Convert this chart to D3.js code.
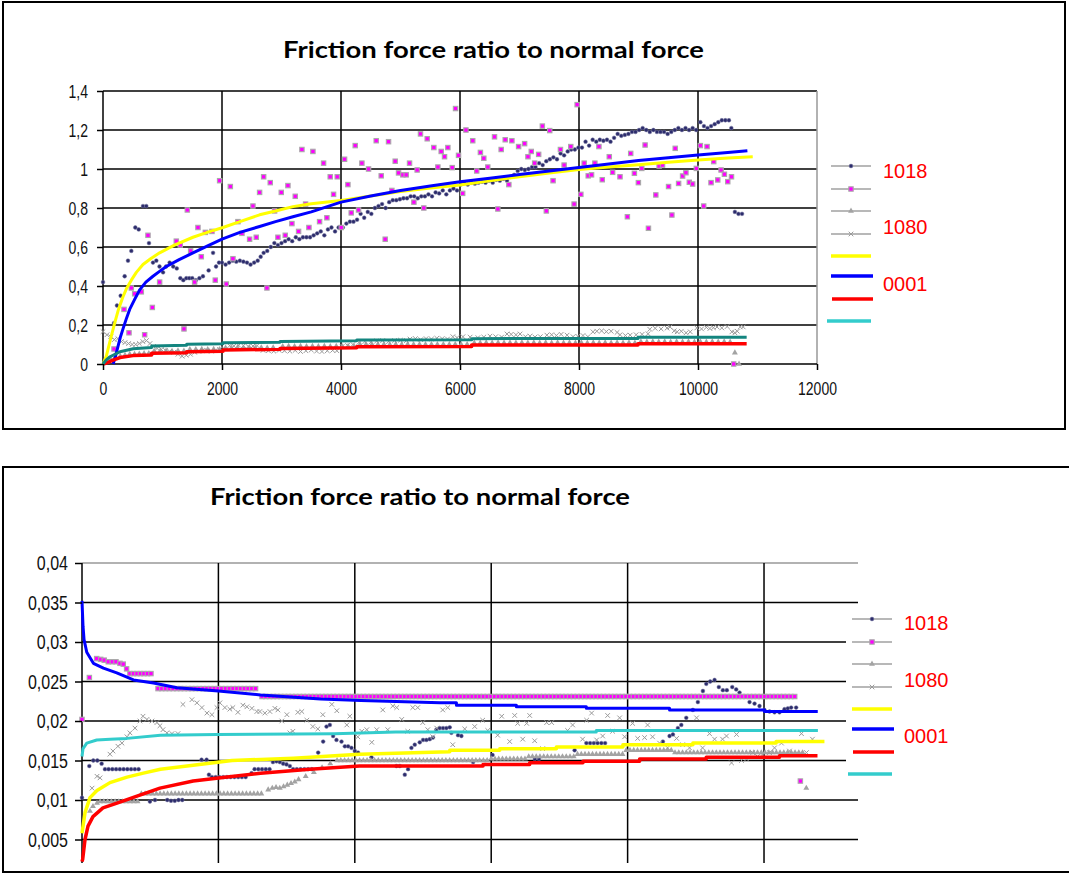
<!DOCTYPE html>
<html>
<head>
<meta charset="utf-8">
<script src="https://cdn.jsdelivr.net/npm/d3@7"></script>
<style>
  body { margin: 0; background: #fff; }
  svg { display: block; }
</style>
</head>
<body>
<div id="chart"></div>
<script>
// ---------- shared tick values / labels ----------
const seriesNames = ["1018", "1080", "0001"];
const topXTicks = [0, 2000, 4000, 6000, 8000, 10000, 12000];
const topYTicks = [0, 0.2, 0.4, 0.6, 0.8, 1, 1.2, 1.4];
const botXTicks = [0, 2000, 4000, 6000, 8000, 10000];
const botYTicks = [0.005, 0.01, 0.015, 0.02, 0.025, 0.03, 0.035, 0.04];

// ---------- top chart data ----------
const topDots = [[0,0.42],[185,0.21],[235,0.30],[297,0.35],[364,0.45],[420,0.53],[476,0.58],[543,0.70],[600,0.69],[672,0.81],[728,0.81],[773,0.62],[840,0.52],[896,0.53],[950,0.50],[1010,0.47],[1060,0.50],[1120,0.52],[1180,0.50],[1240,0.49],[1300,0.44],[1350,0.43],[1400,0.44],[1450,0.44],[1500,0.44],[1560,0.43],[1620,0.44],[1680,0.45],[1775,0.48],[1850,0.57],[1900,0.50],[1950,0.52],[2000,0.52],[2060,0.51],[2120,0.52],[2180,0.53],[2240,0.525],[2300,0.53],[2360,0.525],[2420,0.52],[2480,0.51],[2540,0.52],[2600,0.53],[2650,0.55],[2700,0.57],[2760,0.58],[2820,0.60],[2880,0.62],[2940,0.61],[3000,0.62],[3060,0.63],[3120,0.64],[3180,0.63],[3240,0.65],[3300,0.64],[3360,0.65],[3420,0.65],[3480,0.65],[3540,0.66],[3600,0.67],[3660,0.68],[3720,0.66],[3780,0.69],[3840,0.70],[3900,0.68],[3960,0.70],[4030,0.70],[4090,0.72],[4150,0.73],[4210,0.73],[4270,0.74],[4330,0.77],[4390,0.75],[4450,0.78],[4510,0.77],[4570,0.80],[4630,0.81],[4690,0.82],[4750,0.80],[4810,0.83],[4870,0.84],[4930,0.84],[4990,0.845],[5050,0.85],[5110,0.85],[5170,0.86],[5230,0.86],[5290,0.85],[5350,0.86],[5410,0.86],[5470,0.87],[5530,0.86],[5590,0.88],[5650,0.875],[5710,0.89],[5770,0.87],[5830,0.89],[5890,0.90],[5950,0.89],[6010,0.92],[6070,0.93],[6130,0.92],[6190,0.93],[6250,0.925],[6310,0.93],[6370,0.935],[6430,0.93],[6490,0.94],[6550,0.93],[6610,0.945],[6670,0.94],[6730,0.95],[6790,0.94],[6850,0.96],[6910,0.97],[6970,0.99],[7030,1.0],[7090,0.995],[7150,1.0],[7210,1.01],[7270,1.01],[7330,1.03],[7390,1.02],[7450,1.04],[7510,1.05],[7570,1.06],[7630,1.05],[7690,1.08],[7750,1.07],[7810,1.09],[7870,1.10],[7930,1.10],[7990,1.11],[8050,1.11],[8110,1.14],[8170,1.12],[8230,1.15],[8290,1.14],[8350,1.15],[8410,1.145],[8470,1.15],[8530,1.14],[8590,1.16],[8650,1.18],[8710,1.17],[8770,1.175],[8830,1.18],[8890,1.19],[8950,1.19],[9010,1.20],[9070,1.21],[9130,1.20],[9190,1.19],[9250,1.20],[9310,1.19],[9370,1.19],[9430,1.19],[9490,1.18],[9550,1.19],[9610,1.20],[9670,1.21],[9730,1.20],[9790,1.21],[9850,1.20],[9910,1.21],[9970,1.20],[10040,1.24],[10100,1.22],[10160,1.21],[10220,1.22],[10280,1.23],[10340,1.24],[10400,1.25],[10460,1.25],[10520,1.25],[10560,1.21],[10620,0.78],[10680,0.77],[10740,0.77]];

const topSquares = [[185,0.077],[353,0.28],[437,0.16],[476,0.39],[532,0.36],[644,0.37],[700,0.15],[756,0.66],[829,0.29],[952,0.42],[1232,0.63],[1299,0.61],[1361,0.18],[1417,0.79],[1473,0.58],[1540,0.42],[1596,0.70],[1652,0.55],[1720,0.675],[1831,0.68],[1887,0.43],[1960,0.94],[2072,0.41],[2140,0.91],[2184,0.54],[2268,0.73],[2335,0.67],[2464,0.64],[2520,0.81],[2576,0.65],[2632,0.88],[2700,0.96],[2755,0.39],[2811,0.93],[2884,0.785],[2940,0.65],[2996,0.88],[3063,0.66],[3108,0.915],[3175,0.72],[3231,0.86],[3287,0.68],[3343,1.10],[3405,0.82],[3461,0.70],[3528,1.09],[3640,0.73],[3707,1.03],[3763,0.75],[3819,0.96],[3875,0.87],[3937,0.96],[4004,0.70],[4060,1.05],[4116,0.92],[4172,0.775],[4239,1.12],[4295,0.79],[4351,1.03],[4463,1.00],[4592,1.145],[4676,0.965],[4743,0.64],[4799,1.14],[4855,0.89],[4911,1.04],[4967,0.98],[5040,0.97],[5096,0.97],[5152,1.03],[5225,0.83],[5280,0.995],[5336,1.18],[5392,0.80],[5449,1.155],[5560,1.11],[5628,1.01],[5684,1.09],[5740,1.063],[5796,1.11],[5869,1.007],[5925,1.31],[5975,1.07],[6045,0.875],[6100,1.20],[6214,1.145],[6281,0.99],[6343,1.085],[6400,1.055],[6467,1.01],[6580,1.165],[6636,0.795],[6692,1.10],[6760,1.15],[6821,0.92],[6872,1.145],[6985,1.115],[7086,1.13],[7142,1.063],[7198,1.09],[7255,1.03],[7322,1.075],[7384,1.22],[7451,0.785],[7508,1.197],[7564,0.94],[7688,1.10],[7750,1.02],[7862,1.115],[7918,0.82],[7969,1.33],[8031,0.87],[8087,1.03],[8155,0.965],[8211,0.97],[8267,1.03],[8335,1.115],[8391,0.945],[8509,1.063],[8565,0.983],[8689,0.96],[8813,0.755],[8869,1.08],[8931,0.978],[8998,0.93],[9055,1.003],[9111,1.123],[9167,0.696],[9291,0.867],[9347,1.015],[9404,1.02],[9505,0.91],[9561,0.764],[9617,1.106],[9674,0.926],[9741,0.964],[9797,0.981],[9854,0.932],[9910,0.923],[9972,1.003],[10039,1.12],[10096,0.81],[10152,1.115],[10219,0.93],[10264,1.038],[10332,0.944],[10388,0.995],[10444,0.973],[10500,0.935],[10563,0.96],[10600,0]];

const topTriangles = [[60,0.01],[130,0.025],[210,0.035],[290,0.04],[370,0.045],[450,0.05],[530,0.05],[610,0.052],[690,0.054],[770,0.055],[860,0.066],[960,0.066],[1060,0.067],[1160,0.066],[1260,0.068],[1360,0.067],[1460,0.075],[1560,0.075],[1660,0.076],[1760,0.075],[1860,0.076],[1960,0.075],[2060,0.083],[2160,0.083],[2260,0.084],[2360,0.083],[2460,0.084],[2560,0.083],[2660,0.084],[2760,0.083],[2860,0.084],[3020,0.09],[3120,0.091],[3220,0.09],[3320,0.091],[3420,0.09],[3520,0.091],[3620,0.09],[3720,0.091],[3820,0.09],[3920,0.091],[4020,0.09],[4120,0.091],[4220,0.09],[4320,0.1],[4420,0.1],[4520,0.101],[4620,0.1],[4720,0.101],[4820,0.1],[4920,0.101],[5020,0.1],[5120,0.101],[5220,0.1],[5320,0.101],[5420,0.1],[5520,0.101],[5620,0.1],[5720,0.101],[5820,0.1],[5920,0.101],[6020,0.1],[6120,0.101],[6240,0.108],[6340,0.108],[6440,0.109],[6540,0.108],[6640,0.109],[6740,0.108],[6840,0.109],[6940,0.108],[7040,0.109],[7140,0.108],[7240,0.109],[7340,0.108],[7440,0.109],[7540,0.108],[7640,0.109],[7740,0.108],[7840,0.109],[7940,0.108],[8040,0.109],[8140,0.108],[8240,0.109],[8340,0.108],[8440,0.109],[8540,0.108],[8640,0.109],[8740,0.108],[8840,0.109],[8940,0.108],[9040,0.114],[9140,0.113],[9240,0.114],[9340,0.113],[9440,0.114],[9540,0.113],[9640,0.114],[9740,0.113],[9840,0.114],[9940,0.113],[10040,0.114],[10140,0.113],[10240,0.114],[10340,0.113],[10440,0.114],[10540,0.113],[10620,0.058],[10690,0]];

const topCrosses = [[0,0.166],[67,0.15],[130,0.14],[190,0.125],[250,0.13],[310,0.115],[370,0.11],[430,0.105],[490,0.10],[550,0.10],[610,0.105],[670,0.115],[730,0.12],[790,0.105],[850,0.09],[910,0.08],[980,0.075],[1050,0.07],[1120,0.065],[1190,0.06],[1260,0.05],[1330,0.04],[1400,0.045],[1470,0.05],[1540,0.06],[1610,0.065],[1680,0.07],[1750,0.068],[1820,0.066],[1890,0.07],[1960,0.075],[2030,0.08],[2130,0.094],[2200,0.092],[2280,0.096],[2360,0.094],[2440,0.09],[2520,0.092],[2590,0.094],[2690,0.07],[2780,0.068],[2870,0.066],[2960,0.07],[3050,0.068],[3140,0.066],[3230,0.07],[3320,0.064],[3410,0.068],[3500,0.072],[3590,0.066],[3680,0.064],[3770,0.068],[3860,0.07],[3930,0.068],[4020,0.09],[4110,0.095],[4200,0.1],[4300,0.11],[4400,0.115],[4500,0.112],[4600,0.118],[4700,0.12],[4800,0.115],[4900,0.12],[5000,0.122],[5100,0.12],[5160,0.128],[5250,0.13],[5340,0.125],[5430,0.13],[5520,0.128],[5610,0.132],[5700,0.13],[5790,0.128],[5880,0.14],[5950,0.135],[6050,0.14],[6170,0.138],[6300,0.135],[6400,0.138],[6504,0.143],[6600,0.14],[6700,0.138],[6790,0.154],[6860,0.152],[6940,0.15],[7010,0.154],[7100,0.14],[7177,0.143],[7260,0.138],[7350,0.14],[7460,0.148],[7540,0.15],[7620,0.146],[7700,0.152],[7800,0.148],[7900,0.14],[7980,0.142],[8067,0.146],[8150,0.14],[8235,0.165],[8300,0.168],[8380,0.17],[8460,0.166],[8540,0.168],[8640,0.162],[8690,0.15],[8780,0.146],[8860,0.148],[8960,0.15],[9060,0.152],[9160,0.155],[9190,0.178],[9280,0.183],[9380,0.18],[9480,0.184],[9530,0.19],[9600,0.17],[9650,0.165],[9720,0.168],[9800,0.16],[9870,0.165],[9980,0.185],[10060,0.18],[10140,0.188],[10200,0.182],[10260,0.186],[10320,0.19],[10400,0.185],[10490,0.192],[10570,0.165],[10620,0.16],[10660,0.168],[10710,0.19],[10760,0.19]];

const topYellow = [[0,0],[56,0.04],[120,0.12],[196,0.21],[260,0.28],[336,0.345],[400,0.39],[476,0.43],[560,0.47],[672,0.51],[800,0.54],[952,0.57],[1200,0.61],[1512,0.65],[1750,0.675],[2016,0.70],[2300,0.73],[2632,0.765],[2900,0.785],[3192,0.807],[3500,0.822],[4000,0.838],[4500,0.862],[5000,0.884],[5500,0.902],[6000,0.918],[6500,0.94],[7000,0.96],[7500,0.98],[8000,0.998],[8500,1.01],[9000,1.022],[9500,1.035],[10000,1.046],[10500,1.056],[10920,1.063]];
const topBlue = [[170,0],[210,0.04],[252,0.09],[290,0.135],[336,0.18],[390,0.23],[448,0.28],[530,0.33],[616,0.38],[720,0.42],[840,0.45],[950,0.475],[1064,0.50],[1280,0.535],[1512,0.57],[1750,0.605],[2000,0.64],[2300,0.675],[2632,0.705],[2900,0.73],[3192,0.755],[3500,0.78],[4000,0.83],[4500,0.862],[5000,0.89],[5500,0.913],[6000,0.935],[6500,0.953],[7000,0.972],[7500,0.99],[8000,1.008],[8500,1.026],[9000,1.043],[9500,1.058],[10000,1.072],[10500,1.085],[10830,1.094]];
const topRed = [[0,0],[60,0.005],[168,0.02],[286,0.033],[504,0.043],[818,0.046],[818,0.055],[1406,0.058],[1406,0.063],[2017,0.066],[2017,0.072],[2975,0.075],[2975,0.080],[4264,0.083],[4264,0.089],[6196,0.09],[6196,0.097],[8991,0.098],[8991,0.104],[10818,0.104]];
const topTeal = [[0,0],[50,0.02],[118,0.037],[286,0.063],[507,0.078],[818,0.084],[818,0.092],[1406,0.096],[1406,0.101],[2017,0.104],[2017,0.109],[2975,0.112],[2975,0.116],[4264,0.119],[4264,0.123],[6196,0.124],[6196,0.130],[8991,0.131],[8991,0.137],[10818,0.137]];

// ---------- bottom chart data ----------
const botDots = [[0,0.0103],[107,0.0143],[166,0.0150],[225,0.0150],[288,0.0146],[337,0.0139],[390,0.0139],[445,0.0139],[500,0.0139],[555,0.0139],[610,0.0139],[665,0.0139],[720,0.0139],[775,0.0139],[830,0.0139],[996,0.0098],[1070,0.0100],[1250,0.0100],[1305,0.0099],[1360,0.0099],[1415,0.0100],[1470,0.0100],[1753,0.0151],[1827,0.0151],[1861,0.0132],[1905,0.0129],[1960,0.0129],[2015,0.0129],[2070,0.0129],[2125,0.0129],[2180,0.0129],[2235,0.0129],[2290,0.0129],[2345,0.0129],[2400,0.0129],[2486,0.0134],[2530,0.0139],[2585,0.0139],[2640,0.0139],[2695,0.0139],[2750,0.0139],[2800,0.0148],[2852,0.0149],[2901,0.0148],[2950,0.0146],[2999,0.0145],[3048,0.0143],[3096,0.0139],[3150,0.0139],[3205,0.0139],[3260,0.0139],[3315,0.0139],[3370,0.0139],[3463,0.0160],[3536,0.0174],[3585,0.0193],[3634,0.0195],[3682,0.0181],[3731,0.0176],[3805,0.0174],[3854,0.0168],[3902,0.0168],[3951,0.0166],[4000,0.0162],[4048,0.0160],[4244,0.0154],[4610,0.0143],[4660,0.0143],[4733,0.0132],[4781,0.0139],[4830,0.0166],[4879,0.0170],[4952,0.0173],[5001,0.0176],[5050,0.0176],[5099,0.0177],[5147,0.0179],[5196,0.0189],[5245,0.0191],[5294,0.0191],[5343,0.0191],[5392,0.0192],[5416,0.0185],[5514,0.0182],[5563,0.0181],[5735,0.0148],[6020,0.0157],[6640,0.0152],[6700,0.0152],[7223,0.0163],[7395,0.0172],[7450,0.0172],[7505,0.0172],[7560,0.0172],[7615,0.0172],[7670,0.0172],[8517,0.0174],[8615,0.0181],[8664,0.0183],[8737,0.0191],[8787,0.0195],[8860,0.0204],[8957,0.0214],[9030,0.0224],[9104,0.0238],[9153,0.0247],[9211,0.0250],[9275,0.0252],[9338,0.0243],[9397,0.0239],[9455,0.0239],[9534,0.0243],[9592,0.0240],[9641,0.0236],[9714,0.0231],[9788,0.0224],[9861,0.0222],[9934,0.0219],[10007,0.0214],[10081,0.0212],[10154,0.0211],[10227,0.0211],[10300,0.0215],[10349,0.0216],[10398,0.0217],[10471,0.0217]];

const botSquarePts = [[0,0.0202],[108,0.0255],[215,0.0279],[274,0.0278],[326,0.0277],[385,0.0275],[444,0.0275],[498,0.0275],[557,0.0273],[605,0.0272],[654,0.0266],[10533,0.0124]];
const botSquareRows = [
  [0.026, [703,755,806,857,908,960,1011]],
  [0.0241, [1115,1170,1225,1280,1335,1390,1445,1500,1555,1610,1665,1720,1775,1830,1885,1940,1995,2050,2105,2160,2215,2270,2325,2380,2435,2490,2545]],
  [0.0231, [2640,2695,2750,2805,2860,2915,2970,3025,3080,3135,3190,3245,3300,3355,3410,3465,3520,3575,3630,3685,3740,3795,3850,3905,3960,4015,4070,4125,4180,4235,4290,4345,4400,4455,4510,4565,4620,4675,4730,4785,4840,4895,4950,5005,5060,5115,5170,5225,5280,5335,5390,5445,5500,5555,5610,5665,5720,5775,5830,5885,5940,5995,6050,6105,6160,6215,6270,6325,6380,6435,6490,6545,6600,6655,6710,6765,6820,6875,6930,6985,7040,7095,7150,7205,7260,7315,7370,7425,7480,7535,7590,7645,7700,7755,7810,7865,7920,7975,8030,8085,8140,8195,8250,8305,8360,8415,8470,8525,8580,8635,8690,8745,8800,8855,8910,8965,9020,9075,9130,9185,9240,9295,9350,9405,9460,9515,9570,9625,9680,9735,9790,9845,9900,9955,10010,10065,10120,10175,10230,10285,10340,10395,10450]]
];

const botTrianglePts = [[117,0.0086],[161,0.0092],[220,0.0096],[2730,0.0113],[2790,0.0115],[2845,0.0116],[2900,0.0115],[2955,0.0117],[3010,0.0119],[3065,0.0121],[3120,0.0123],[3175,0.0126],[3280,0.0130],[3400,0.0135],[3520,0.0141],[3640,0.0146],[10620,0.0115]];
const botTriangleRows = [
  [0.0098, [265,320,375,430,485,540,595,650,705,760,815]],
  [0.0108, [870,925,980,1035,1090,1145,1200,1255,1310,1365,1420,1475,1530,1585,1640,1695,1750,1805,1860,1915,1970,2025,2080,2135,2190,2245,2300,2355,2410,2465,2520,2575,2630]],
  [0.0150, [3740,3795,3850,3905,3960,4015,4070,4125,4180,4235,4290,4345,4400,4455,4510,4565,4620,4675,4730,4785,4840,4895,4950,5005,5060,5115,5170,5225,5280,5335,5390,5445,5500,5555,5610,5665,5720,5775,5830,5885,5940]],
  [0.0152, [6000,6055,6110,6165,6220,6275,6330,6385,6440,6495]],
  [0.0155, [6550,6605,6660,6715,6770,6825,6880,6935,6990,7045,7100,7155,7210]],
  [0.0158, [7265,7320,7375,7430,7485,7540,7595,7650,7705,7760,7815,7870,7925]],
  [0.0163, [7980,8035,8090,8145,8200,8255,8310,8365,8420,8475,8530,8585,8640]],
  [0.0160, [8695,8750,8805,8860,8915,8970,9025,9080,9135,9190,9245,9300,9355,9410,9465,9520,9575,9630,9685,9740,9795,9850,9905,9960,10015,10070,10125,10180,10235,10290,10345,10400,10455,10510,10565]]
];

const botCrosses = [[147,0.0115],[220,0.0130],[264,0.0128],[410,0.0158],[454,0.0162],[527,0.0168],[586,0.0172],[659,0.0180],[703,0.0185],[777,0.0191],[850,0.0200],[894,0.0206],[952,0.0202],[1026,0.0200],[1099,0.0198],[1143,0.0194],[1187,0.0189],[1245,0.0185],[1319,0.0184],[1407,0.0184],[1480,0.0221],[1612,0.0227],[1685,0.0223],[1758,0.0217],[1832,0.0210],[1905,0.0208],[1978,0.0217],[2022,0.0223],[2095,0.0217],[2168,0.0215],[2212,0.0217],[2286,0.0211],[2359,0.0220],[2418,0.0218],[2491,0.0216],[2564,0.0212],[2608,0.0212],[2681,0.0210],[2755,0.0212],[2828,0.0216],[2872,0.0214],[2930,0.0200],[3004,0.0208],[3048,0.0185],[3092,0.0187],[3165,0.0211],[3223,0.0212],[3297,0.0201],[3385,0.0193],[3458,0.0190],[3531,0.0208],[3663,0.0221],[3736,0.0213],[3883,0.0195],[3927,0.0206],[4044,0.0180],[4103,0.0187],[4176,0.0189],[4249,0.0173],[4322,0.0189],[4410,0.0214],[4483,0.0189],[4557,0.0219],[4615,0.0217],[4688,0.0202],[4776,0.0187],[4850,0.0217],[4923,0.0217],[4996,0.0198],[5070,0.0189],[5143,0.0180],[5201,0.0191],[5289,0.0214],[5363,0.0217],[5436,0.0170],[5612,0.0190],[5758,0.0193],[5875,0.0201],[5949,0.0188],[6095,0.0182],[6154,0.0206],[6271,0.0174],[6344,0.0207],[6388,0.0197],[6462,0.0177],[6520,0.0197],[6564,0.0207],[6637,0.0175],[6754,0.0165],[6813,0.0198],[6886,0.0198],[7120,0.0188],[7194,0.0195],[7340,0.0177],[7399,0.0201],[7472,0.0210],[7546,0.0176],[7634,0.0181],[7707,0.0207],[7780,0.0187],[7883,0.0204],[7956,0.0180],[8073,0.0197],[8147,0.0178],[8249,0.0179],[8293,0.0195],[8366,0.0180],[8469,0.0172],[8586,0.0166],[8718,0.0178],[8806,0.0170],[8908,0.0166],[9011,0.0204],[9099,0.0166],[9201,0.0184],[9275,0.0177],[9392,0.0177],[9450,0.0181],[9524,0.0147],[9597,0.0183],[9670,0.0150],[9744,0.0152],[9832,0.0160],[9905,0.0155],[9978,0.0157],[10081,0.0160],[10154,0.0166],[10256,0.0172],[10373,0.0162],[10549,0.0184],[10622,0.0160],[10710,0.0177]];

const botBlue = [[0,0.0352],[15,0.0320],[30,0.0303],[70,0.0287],[167,0.0273],[314,0.0267],[510,0.0261],[755,0.0252],[1049,0.0248],[1392,0.0242],[2000,0.0238],[2617,0.0233],[3500,0.0228],[4090,0.0226],[5250,0.0223],[5490,0.0223],[5490,0.0220],[6369,0.0220],[6369,0.0218],[7395,0.0218],[7395,0.0216],[8615,0.0216],[8615,0.0214],[10007,0.0214],[10007,0.0212],[10788,0.0212]];
const botYellow = [[0,0.0058],[44,0.0084],[117,0.0103],[220,0.0112],[410,0.0122],[660,0.0129],[900,0.0134],[1150,0.0139],[1630,0.0144],[2200,0.0150],[3100,0.0153],[4070,0.0158],[5392,0.0161],[5392,0.0163],[6125,0.0163],[6125,0.0165],[6955,0.0165],[6955,0.0167],[7931,0.0167],[7931,0.0170],[8957,0.0170],[8957,0.0172],[10178,0.0172],[10178,0.0174],[10886,0.0174]];
const botRed = [[0,0.0022],[10,0.0025],[44,0.0050],[88,0.0067],[161,0.0079],[307,0.0090],[513,0.0096],[806,0.0105],[1143,0.0115],[1630,0.0124],[2130,0.0129],[2617,0.0134],[3340,0.0139],[4070,0.0143],[5880,0.0143],[5880,0.0145],[6564,0.0145],[6564,0.0147],[7345,0.0147],[7345,0.0149],[8176,0.0149],[8176,0.0152],[9153,0.0152],[9153,0.0154],[10227,0.0154],[10227,0.0156],[10784,0.0156]];
const botCyan = [[0,0.0155],[15,0.0165],[70,0.0172],[216,0.0176],[412,0.0177],[660,0.0178],[1150,0.0182],[1980,0.0183],[3700,0.0184],[4600,0.0186],[7540,0.0186],[7540,0.0188],[10790,0.0188]];

// ---------- drawing ----------
const W = 1069, H = 873;
const fmt = d3.formatLocale({ decimal: ",", thousands: "", grouping: [3], currency: ["", ""] });

const svg = d3.select("#chart").append("svg").attr("width", W).attr("height", H);

const rowsToPts = rows => rows.flatMap(([yv, xs]) => xs.map(xv => [xv, yv]));

function drawMarker(g, type, px, py) {
  if (type === "dot") {
    g.append("circle").attr("cx", px).attr("cy", py).attr("r", 1.9)
      .attr("fill", "#2c2c6c").attr("stroke", "#7777a0").attr("stroke-width", 0.5);
  } else if (type === "square") {
    g.append("rect").attr("x", px - 2.2).attr("y", py - 2.2).attr("width", 4.4).attr("height", 4.4)
      .attr("fill", "#ff00ff").attr("stroke", "#aaaaaa").attr("stroke-width", 1.1);
  } else if (type === "tri") {
    g.append("path").attr("transform", `translate(${px},${py})`)
      .attr("d", d3.symbol(d3.symbolTriangle, 15)()).attr("fill", "#a3a3a3");
  } else if (type === "cross") {
    g.append("path").attr("transform", `translate(${px},${py})`)
      .attr("d", "M-2.3,-2.3L2.3,2.3M-2.3,2.3L2.3,-2.3")
      .attr("stroke", "#9a9a9a").attr("stroke-width", 1).attr("fill", "none");
  }
}

function drawPanel(p) {
  const root = svg.append("g");
  const x = p.x, y = p.y;

  // outer frame
  root.append("rect").attr("x", p.box[0]).attr("y", p.box[1])
    .attr("width", p.box[2]).attr("height", p.box[3])
    .attr("fill", "#fff").attr("stroke", "#000").attr("stroke-width", 2);

  root.append("text").attr("x", p.titleX).attr("y", p.titleY)
    .attr("font-family", "Lato, 'Open Sans', sans-serif").attr("font-weight", "bold")
    .attr("font-size", 23).attr("textLength", p.titleLen).attr("lengthAdjust", "spacingAndGlyphs")
    .attr("fill", "#000").text("Friction force ratio to normal force");

  const clipId = "clip" + p.id;
  root.append("clipPath").attr("id", clipId).append("rect")
    .attr("x", 0).attr("y", 0).attr("width", W).attr("height", p.clipBottom);

  const plot = root.append("g").attr("clip-path", `url(#${clipId})`);
  const [x0, x1] = x.range();
  const yTop = y(p.yTicks[p.yTicks.length - 1]);
  const yBot = p.clipBottom < y(0) ? p.clipBottom : y(0);

  // grid
  plot.selectAll(".hg").data(p.yTicks.filter(v => v > 0)).join("line")
    .attr("x1", x0).attr("x2", x1).attr("y1", d => y(d)).attr("y2", d => y(d))
    .attr("stroke", (d, i, n) => i === n.length - 1 ? p.topColor : "#000").attr("stroke-width", 1.5);
  plot.selectAll(".vg").data(p.xTicks.filter(v => v > 0)).join("line")
    .attr("x1", d => x(d)).attr("x2", d => x(d)).attr("y1", yTop).attr("y2", yBot)
    .attr("stroke", d => d === p.rightGrayAt ? "#999" : "#000").attr("stroke-width", 1.5);
  plot.append("line").attr("x1", x0).attr("x2", x0).attr("y1", yTop).attr("y2", yBot)
    .attr("stroke", "#000").attr("stroke-width", 1.5);
  if (p.xAxisLine) {
    plot.append("line").attr("x1", x0).attr("x2", x1).attr("y1", y(0)).attr("y2", y(0))
      .attr("stroke", "#000").attr("stroke-width", 1.5);
  }

  // y axis ticks + labels
  const yAxis = d3.axisLeft(y).tickValues(p.yTicks).tickSize(p.tickLen).tickPadding(p.tickPad)
    .tickFormat(p.yFmt);
  root.append("g").attr("transform", `translate(${x0},0)`).call(yAxis)
    .attr("font-family", "Liberation Sans, Arial, sans-serif").attr("font-size", p.labelSize)
    .call(a => a.select(".domain").remove())
    .call(a => a.selectAll("line").attr("stroke-width", 1.5))
    .call(a => a.selectAll("text").attr("fill", "#111").attr("transform", `scale(1,${p.stretch})`));

  if (p.xLabels) {
    const xAxis = d3.axisBottom(x).tickValues(p.xTicks).tickSize(6).tickPadding(0).tickFormat(d3.format("d"));
    root.append("g").attr("transform", `translate(0,${y(0)})`).call(xAxis)
      .attr("font-family", "Liberation Sans, Arial, sans-serif").attr("font-size", p.labelSize)
      .call(a => a.select(".domain").remove())
      .call(a => a.selectAll("line").attr("stroke-width", 1.5))
      .call(a => a.selectAll("text").attr("fill", "#111").attr("y", 0)
        .attr("transform", `translate(0,${p.xLabelOffset}) scale(1,${p.stretch})`));
  }

  // marker series
  p.markers.forEach(s => {
    const g = plot.append("g");
    s.pts.forEach(d => drawMarker(g, s.type, x(d[0]), y(d[1])));
  });

  // curve series
  const line = d3.line().x(d => x(d[0])).y(d => y(d[1]));
  p.lines.forEach(s => {
    plot.append("path").datum(s.pts).attr("d", line).attr("fill", "none")
      .attr("stroke", s.color).attr("stroke-width", s.width).attr("stroke-linejoin", "round");
  });

  // legend
  const lg = root.append("g");
  if (p.legendBox) {
    lg.append("rect").attr("x", p.legendBox[0]).attr("y", p.legendBox[1])
      .attr("width", p.legendBox[2]).attr("height", p.legendBox[3]).attr("fill", "#fff");
  }
  const lx = p.legendX;
  ["dot", "square", "tri", "cross"].forEach((t, i) => {
    const ly = p.legendY[i];
    lg.append("line").attr("x1", lx).attr("x2", lx + 40).attr("y1", ly).attr("y2", ly)
      .attr("stroke", "#a0a0a0").attr("stroke-width", 1.5);
    drawMarker(lg, t, lx + 20, ly);
  });
  p.legendLines.forEach((c, i) => {
    const ly = p.legendY[4 + i];
    lg.append("line").attr("x1", lx + c.dx0).attr("x2", lx + c.dx1).attr("y1", ly).attr("y2", ly)
      .attr("stroke", c.color).attr("stroke-width", 3.5);
  });
  seriesNames.forEach((name, i) => {
    lg.append("text").attr("x", p.legendTextX).attr("y", p.legendTextY[i])
      .attr("font-family", "Liberation Sans, Arial, sans-serif").attr("font-size", 20)
      .attr("fill", "#ff0000").text(name);
  });
}

const legendLineStyles = [
  { color: "#ffff00", dx0: 0, dx1: 40 },
  { color: "#0000ff", dx0: 0, dx1: 42 },
  { color: "#ff0000", dx0: 1, dx1: 42 },
  { color: "#33cccc", dx0: -4, dx1: 40 }
];

drawPanel({
  id: "top",
  box: [3, 2, 1062, 427],
  titleX: 283, titleY: 58, titleLen: 421,
  x: d3.scaleLinear().domain([0, 12000]).range([103, 817]),
  y: d3.scaleLinear().domain([0, 1.4]).range([364, 91]),
  xTicks: topXTicks, yTicks: topYTicks,
  yFmt: fmt.format(".1~f"),
  topColor: "#000", rightGrayAt: 12000,
  clipBottom: 372, xAxisLine: true,
  tickLen: 6, tickPad: 9, labelSize: 14, stretch: 1.35,
  xLabels: true, xLabelOffset: 18,
  markers: [
    { type: "dot", pts: topDots },
    { type: "square", pts: topSquares },
    { type: "tri", pts: topTriangles },
    { type: "cross", pts: topCrosses }
  ],
  lines: [
    { pts: topYellow, color: "#ffff00", width: 3 },
    { pts: topBlue, color: "#0000ff", width: 3 },
    { pts: topRed, color: "#ff0000", width: 3.5 },
    { pts: topTeal, color: "#13857f", width: 3 }
  ],
  legendX: 831,
  legendY: [166, 189, 211, 234, 256, 276, 299, 321],
  legendLines: legendLineStyles,
  legendTextX: 883, legendTextY: [178, 234, 291]
});

drawPanel({
  id: "bot",
  box: [3, 467, 1075, 405],
  titleX: 210, titleY: 505, titleLen: 420,
  x: d3.scaleLinear().domain([0, 11378]).range([82, 858]),
  y: d3.scaleLinear().domain([0, 0.04]).range([879, 563]),
  xTicks: botXTicks, yTicks: botYTicks,
  yFmt: fmt.format(".3~f"),
  topColor: "#999", rightGrayAt: null,
  clipBottom: 863, xAxisLine: false,
  tickLen: 7, tickPad: 7, labelSize: 16, stretch: 1.3,
  xLabels: false,
  markers: [
    { type: "dot", pts: botDots },
    { type: "square", pts: botSquarePts.concat(rowsToPts(botSquareRows)) },
    { type: "tri", pts: botTrianglePts.concat(rowsToPts(botTriangleRows)) },
    { type: "cross", pts: botCrosses }
  ],
  lines: [
    { pts: botYellow, color: "#ffff00", width: 3.5 },
    { pts: botBlue, color: "#0000ff", width: 3 },
    { pts: botRed, color: "#ff0000", width: 3.5 },
    { pts: botCyan, color: "#33cccc", width: 3 }
  ],
  legendBox: [846, 607, 223, 180],
  legendX: 852,
  legendY: [619, 642, 664, 687, 709, 729, 752, 774],
  legendLines: legendLineStyles,
  legendTextX: 904, legendTextY: [630, 687, 743]
});
</script>
</body>
</html>
